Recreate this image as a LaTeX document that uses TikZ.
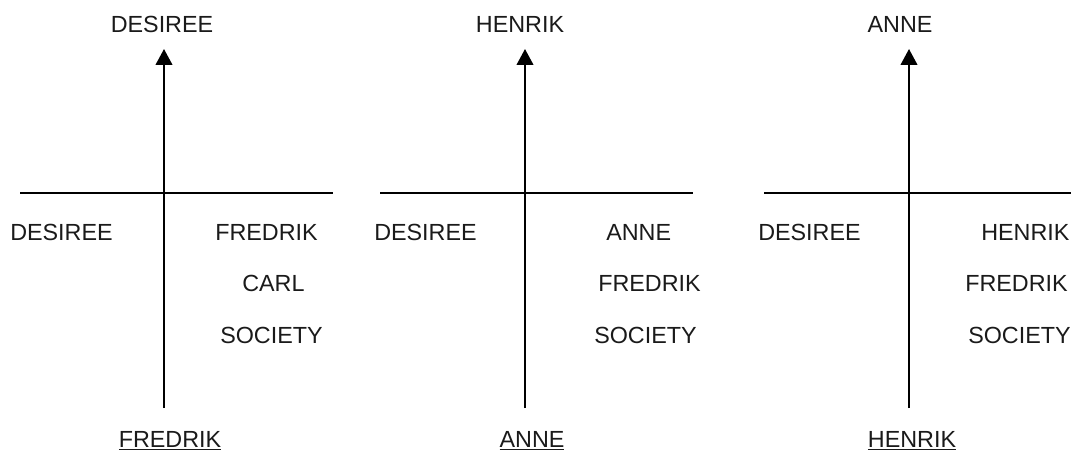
\documentclass[tikz,border=0pt]{standalone}
\usepackage{fontspec}
\setmainfont{Liberation Sans}
\usetikzlibrary{arrows.meta}
\definecolor{cInk}{HTML}{1A1A1A}

\begin{document}
\begin{tikzpicture}[x=0.75pt,y=-0.75pt,
      lbl/.style={inner sep=0pt,anchor=base,text=cInk,font=\fontsize{17.5}{20}\selectfont},
      lblw/.style={lbl,anchor=base west},
      axis/.style={line width=1.5pt,black},
      arr/.style={axis,-{Triangle[length=12pt,width=12.5pt]}}]
    \useasboundingbox (0,0) rectangle (1071,452);
    % model 1
    \node[lbl] (top1) at (162,33) {DESIREE};
    \node[lbl] (sub1) at (170,447) {\underline{FREDRIK}};
    \node[lblw] (opp1) at (10,241) {DESIREE};
    \node[lblw] (hlp1a) at (215,241) {FREDRIK};
    \node[lblw] (hlp1b) at (242,292) {CARL};
    \node[lblw] (hlp1c) at (220,344) {SOCIETY};
    \coordinate (v1s) at (164,408); \coordinate (v1e) at (164,49);
    \coordinate (h1s) at (20,193);  \coordinate (h1e) at (333,193);
    \draw[axis] (h1s) -- (h1e);
    \draw[arr] (v1s) -- (v1e);
    % model 2
    \node[lbl] (top2) at (520,33) {HENRIK};
    \node[lbl] (sub2) at (532,447) {\underline{ANNE}};
    \node[lblw] (opp2) at (374,241) {DESIREE};
    \node[lblw] (hlp2a) at (606,241) {ANNE};
    \node[lblw] (hlp2b) at (598,292) {FREDRIK};
    \node[lblw] (hlp2c) at (594,344) {SOCIETY};
    \coordinate (v2s) at (525,408); \coordinate (v2e) at (525,49);
    \coordinate (h2s) at (380,193); \coordinate (h2e) at (693,193);
    \draw[axis] (h2s) -- (h2e);
    \draw[arr] (v2s) -- (v2e);
    % model 3
    \node[lbl] (top3) at (900,33) {ANNE};
    \node[lbl] (sub3) at (912,447) {\underline{HENRIK}};
    \node[lblw] (opp3) at (758,241) {DESIREE};
    \node[lblw] (hlp3a) at (981,241) {HENRIK};
    \node[lblw] (hlp3b) at (965,292) {FREDRIK};
    \node[lblw] (hlp3c) at (968,344) {SOCIETY};
    \coordinate (v3s) at (909,408); \coordinate (v3e) at (909,49);
    \coordinate (h3s) at (764,193); \coordinate (h3e) at (1071,193);
    \draw[axis] (h3s) -- (h3e);
    \draw[arr] (v3s) -- (v3e);
\end{tikzpicture}
\end{document}
